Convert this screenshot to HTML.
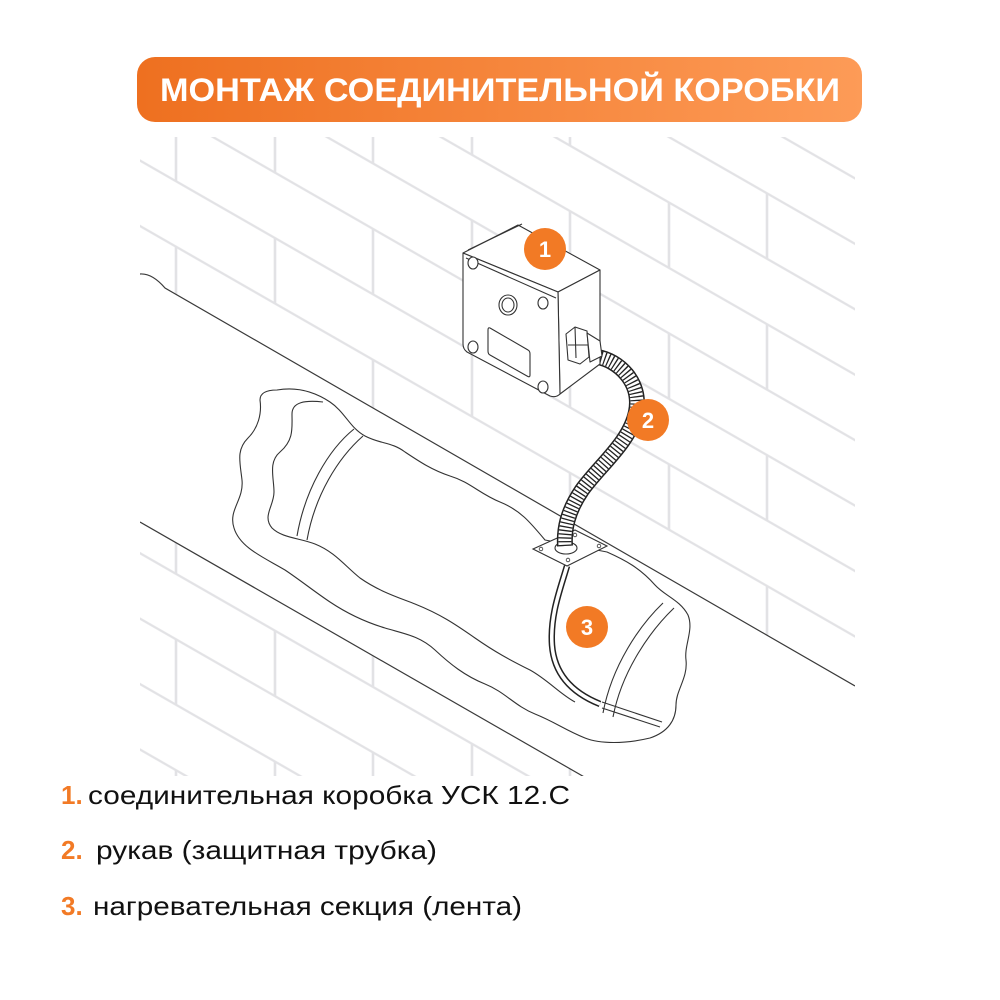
<!DOCTYPE html>
<html><head><meta charset="utf-8">
<style>
html,body{margin:0;padding:0;background:#fff;}
svg{display:block;}
</style></head>
<body>
<svg width="1000" height="1000" viewBox="0 0 1000 1000" xmlns="http://www.w3.org/2000/svg">
<defs>
  <linearGradient id="tg" x1="0" x2="1" y1="0" y2="0">
    <stop offset="0" stop-color="#ee7020"/>
    <stop offset="1" stop-color="#fd9b57"/>
  </linearGradient>
  <pattern id="brick" patternUnits="userSpaceOnUse" x="0" y="13.74" width="197" height="130.88" patternTransform="skewY(29.86)">
    <rect x="0" y="-0.3" width="197" height="2.6" fill="#e2e2e5"/>
    <rect x="0" y="65.14" width="197" height="2.6" fill="#e2e2e5"/>
    <rect x="0" y="130.58" width="197" height="2.6" fill="#e2e2e5"/>
    <rect x="174.7" y="0" width="2.6" height="66.44" fill="#e2e2e5"/>
    <rect x="76.7" y="66.44" width="2.6" height="65.44" fill="#e2e2e5"/>
  </pattern>
  <clipPath id="wall"><rect x="140" y="137" width="715" height="639"/></clipPath>
</defs>

<!-- title -->
<rect x="137" y="57" width="725" height="65" rx="18" fill="url(#tg)"/>
<text x="500" y="101" text-anchor="middle" font-family="'Liberation Sans', sans-serif" font-weight="bold" font-size="32" fill="#fff" textLength="680" lengthAdjust="spacingAndGlyphs">МОНТАЖ СОЕДИНИТЕЛЬНОЙ КОРОБКИ</text>

<!-- wall -->
<rect x="140" y="137" width="715" height="639" fill="url(#brick)"/>

<g clip-path="url(#wall)">
  <!-- pipe -->
  <path d="M140,274 Q152,273 165,288 L855,686 L855,776 L582,776 L140,522 Z" fill="#fff"/>
  <path d="M140,274 Q152,273 165,288 L855,686" fill="none" stroke="#3a3a3a" stroke-width="1.2"/>
  <path d="M140,522 L600,786" fill="none" stroke="#3a3a3a" stroke-width="1.2"/>
</g>

<g fill="none" stroke="#333" stroke-width="1.1" stroke-linejoin="round">
  <!-- insulation outer -->
  <path fill="#fff" d="M277,390 C300,386 318,394 330,402 C345,412 350,428 365,436 C380,444 392,442 405,452 C420,462 432,470 450,476 C470,482 480,494 500,502 C520,510 530,522 545,540
   L607,552 C625,560 640,568 655,585 C665,596 680,600 688,615 C694,630 684,645 686,660 C688,678 676,690 676,705 C676,720 668,732 650,738
   C625,744 600,744 585,738 C565,730 555,722 535,714 C515,706 505,692 485,684 C465,676 450,664 435,650 C420,636 405,634 385,628 C365,622 345,612 330,602 C315,592 300,580 285,570 C265,558 240,548 234,528 C228,510 244,500 242,480 C240,462 236,450 248,438 C258,428 262,414 260,400 C260,392 268,390 277,390 Z"/>
  <!-- inner opening edge -->
  <path d="M323,402 C305,400 292,402 292,414 C292,428 294,440 280,452 C268,462 274,478 274,492 C274,506 262,516 272,528 C282,538 300,538 315,544 C335,552 345,566 360,578 C380,592 400,598 415,604 C440,614 455,624 475,638 C495,652 510,660 530,670 C548,680 560,694 575,702"/>
  <!-- left band -->
  <path d="M354,429 C328,450 305,490 297,536"/>
  <path d="M363,436 C338,458 315,495 307,540"/>
  <!-- right band -->
  <path d="M663,603 C640,625 612,665 603,713"/>
  <path d="M674,608 C651,630 622,670 613,717"/>
  <!-- pipe bottom inside insulation -->
  <path d="M602,702 L662,722"/>
  <path d="M602,708 L660,727"/>
</g>

<!-- heat cable -->
<path d="M567,566 C560,590 550,615 552,645 C554,672 570,692 600,704" fill="none" stroke="#222" stroke-width="6.5"/>
<path d="M567,566 C560,590 550,615 552,645 C554,672 570,692 600,704" fill="none" stroke="#fff" stroke-width="3.5"/>

<!-- saddle plate -->
<path d="M533,549 L575,530 L607,546 L567,566 Z" fill="#fff" stroke="#333" stroke-width="1.1"/>
<g fill="#fff" stroke="#333" stroke-width="0.8">
  <circle cx="541" cy="549" r="1.8"/><circle cx="599" cy="546" r="1.8"/>
  <circle cx="568" cy="560" r="1.8"/><circle cx="575" cy="535" r="1.8"/>
</g>
<ellipse cx="566" cy="548" rx="11" ry="6" fill="#fff" stroke="#333" stroke-width="1.1"/>

<!-- hose -->
<path id="hose" d="M597,357 C618,360 642,382 636,412 C630,442 600,465 582,490 C567,512 564,530 565,546" fill="none" stroke="#222" stroke-width="16" stroke-linecap="butt"/>
<path d="M597,357 C618,360 642,382 636,412 C630,442 600,465 582,490 C567,512 564,530 565,546" fill="none" stroke="#fff" stroke-width="13"/>
<path d="M597,357 C618,360 642,382 636,412 C630,442 600,465 582,490 C567,512 564,530 565,546" fill="none" stroke="#222" stroke-width="13" stroke-dasharray="1.3 2.4"/>

<!-- box -->
<g stroke="#333" stroke-width="1.1" stroke-linejoin="round">
  <path d="M463,253 L518,225 L600,270 L558,292 Z" fill="#fff"/>
  <path d="M558,292 L600,270 L600,364 L560,394 Z" fill="#fff"/>
  <path d="M463,253 L558,292 L560,394 Q556,398 550,396 L467,352 Q463,349 463,344 Z" fill="#fff"/>
  <path d="M468,250 L522,224" fill="none"/>
  <path d="M466,258 L556,298" fill="none"/>
  <!-- holes -->
  <ellipse cx="473" cy="263" rx="5" ry="6" fill="#fff"/>
  <ellipse cx="543" cy="303" rx="5" ry="6" fill="#fff"/>
  <ellipse cx="473" cy="347" rx="5" ry="6" fill="#fff"/>
  <ellipse cx="543" cy="387" rx="5" ry="6" fill="#fff"/>
  <ellipse cx="508" cy="305" rx="9" ry="10" fill="#fff"/>
  <ellipse cx="508" cy="305" rx="6" ry="7" fill="#fff"/>
  <path d="M490,328 L528,350 Q530,351 530,354 L530,375 Q530,378 527,376 L490,355 Q488,354 488,351 L488,330 Q488,327 490,328 Z" fill="#fff"/>
  <!-- gland -->
  <path d="M566,334 L575,327 L587,331 L589,357 L580,364 L568,360 Z" fill="#fff"/>
  <path d="M575,327 L576,358 M568,345 L588,345" fill="none"/>
  <path d="M587,333 L600,341 L602,356 L590,362 Z" fill="#fff"/>
</g>

<!-- badges -->
<g font-family="'Liberation Sans', sans-serif" font-weight="bold" font-size="22" fill="#fff" text-anchor="middle">
  <circle cx="545" cy="249" r="21" fill="#f27a25"/>
  <text x="545" y="257">1</text>
  <circle cx="648" cy="420" r="21" fill="#f27a25"/>
  <text x="648" y="428">2</text>
  <circle cx="587" cy="627" r="21" fill="#f27a25"/>
  <text x="587" y="635">3</text>
</g>

<!-- legend -->
<g font-family="'Liberation Sans', sans-serif" font-size="26">
  <text x="61" y="804" fill="#f27a25" font-weight="bold">1.</text>
  <text x="88" y="804" fill="#111" textLength="482" lengthAdjust="spacingAndGlyphs">соединительная коробка УСК 12.С</text>
  <text x="61" y="859" fill="#f27a25" font-weight="bold">2.</text>
  <text x="96" y="859" fill="#111" textLength="341" lengthAdjust="spacingAndGlyphs">рукав (защитная трубка)</text>
  <text x="61" y="915" fill="#f27a25" font-weight="bold">3.</text>
  <text x="93" y="915" fill="#111" textLength="429" lengthAdjust="spacingAndGlyphs">нагревательная секция (лента)</text>
</g>
</svg>
</body></html>
